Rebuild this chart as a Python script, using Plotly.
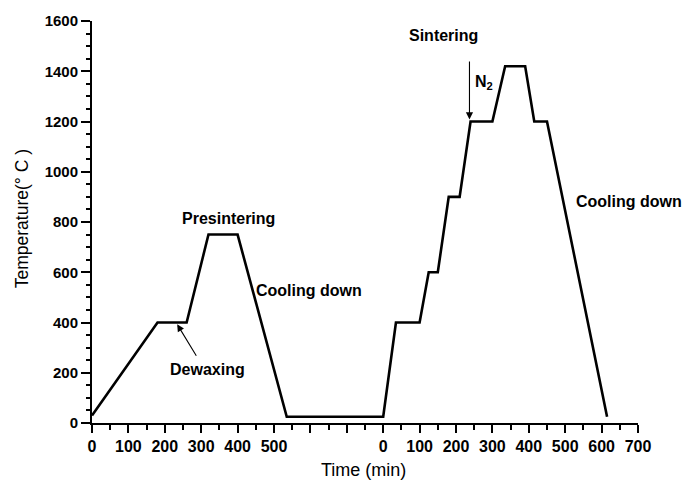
import plotly.graph_objects as go

# ---- data ----
presinter_time = [0, 180, 260, 320, 400, 535]
presinter_temp = [30, 400, 400, 750, 750, 25]

sinter_time = [0, 35, 100, 125, 150, 180, 210, 240, 300, 335, 390, 415, 450, 615]
sinter_temp = [25, 400, 400, 600, 600, 900, 900, 1200, 1200, 1420, 1420, 1200, 1200, 25]

# the sintering time axis restarts at this position of the shared axis
SINTER_OFFSET = 800

x_tick_vals = list(range(0, 1501, 100))
x_tick_text = ["0", "100", "200", "300", "400", "500", "", "",
               "0", "100", "200", "300", "400", "500", "600", "700"]

y_tick_vals = list(range(0, 1601, 200))

# ---- build the figure ----
x_all = presinter_time + [t + SINTER_OFFSET for t in sinter_time]
y_all = presinter_temp + sinter_temp

FONT = "Liberation Sans, Arial, sans-serif"

fig = go.Figure()
fig.add_trace(go.Scatter(
    x=x_all, y=y_all, mode="lines",
    line=dict(color="black", width=2.6),
    hoverinfo="skip", showlegend=False,
))

ann_font = dict(family=FONT, size=16, color="black", weight="bold")

annotations = [
    dict(x=376, y=812, text="Presintering", showarrow=False, font=ann_font),
    dict(x=596, y=527, text="Cooling down", showarrow=False, font=ann_font),
    dict(x=317, y=213, text="Dewaxing", showarrow=False, font=ann_font),
    dict(x=967, y=1542, text="Sintering", showarrow=False, font=ann_font),
    dict(x=1076, y=1355, text="N<sub>2</sub>", showarrow=False, font=ann_font),
    dict(x=1474, y=881, text="Cooling down", showarrow=False, font=ann_font),
    # Dewaxing arrow
    dict(x=234, y=393, ax=289, ay=262, axref="x", ayref="y", text="",
         showarrow=True, arrowhead=2, arrowsize=1.3, arrowwidth=1.1,
         arrowcolor="black", standoff=0),
    # N2 arrow
    dict(x=1037, y=1208, ax=1037, ay=1445, axref="x", ayref="y", text="",
         showarrow=True, arrowhead=2, arrowsize=1.3, arrowwidth=1.1,
         arrowcolor="black", standoff=0),
    # axis titles
    dict(x=0.497, y=-0.118, xref="paper", yref="paper", text="Time (min)",
         showarrow=False, font=dict(family=FONT, size=18, color="black"),
         xanchor="center", yanchor="middle"),
    dict(x=-0.128, y=0.507, xref="paper", yref="paper", text="Temperature(° C )",
         showarrow=False, textangle=-90,
         font=dict(family=FONT, size=17.5, color="black"),
         xanchor="center", yanchor="middle"),
]

fig.update_layout(
    width=700, height=485,
    margin=dict(l=92, r=62, t=16, b=62),
    paper_bgcolor="white", plot_bgcolor="white",
    font=dict(family=FONT, color="black"),
    annotations=annotations,
    xaxis=dict(
        range=[0, 1500], tickmode="array", tickvals=x_tick_vals, ticktext=x_tick_text,
        ticks="outside", ticklen=8, tickwidth=2, tickcolor="black",
        showline=True, linewidth=2, linecolor="black",
        showgrid=False, zeroline=False,
        tickfont=dict(family=FONT, size=16, color="black", weight="bold"),
        minor=dict(tickmode="linear", tick0=0, dtick=50, ticks="outside",
                   ticklen=5, tickwidth=2, tickcolor="black", showgrid=False),
    ),
    yaxis=dict(
        range=[0, 1600], tickmode="array", tickvals=y_tick_vals,
        ticks="outside", ticklen=9, tickwidth=2, tickcolor="black",
        showline=True, linewidth=2, linecolor="black",
        showgrid=False, zeroline=False,
        tickfont=dict(family=FONT, size=15, color="black", weight="bold"),
        minor=dict(tickmode="linear", tick0=0, dtick=50, ticks="outside",
                   ticklen=4, tickwidth=2, tickcolor="black", showgrid=False),
    ),
)

fig.write_html(
    "out.html",
    config={"displayModeBar": False},
    post_script="document.body.style.margin='0px';document.body.style.overflow='hidden';",
)
